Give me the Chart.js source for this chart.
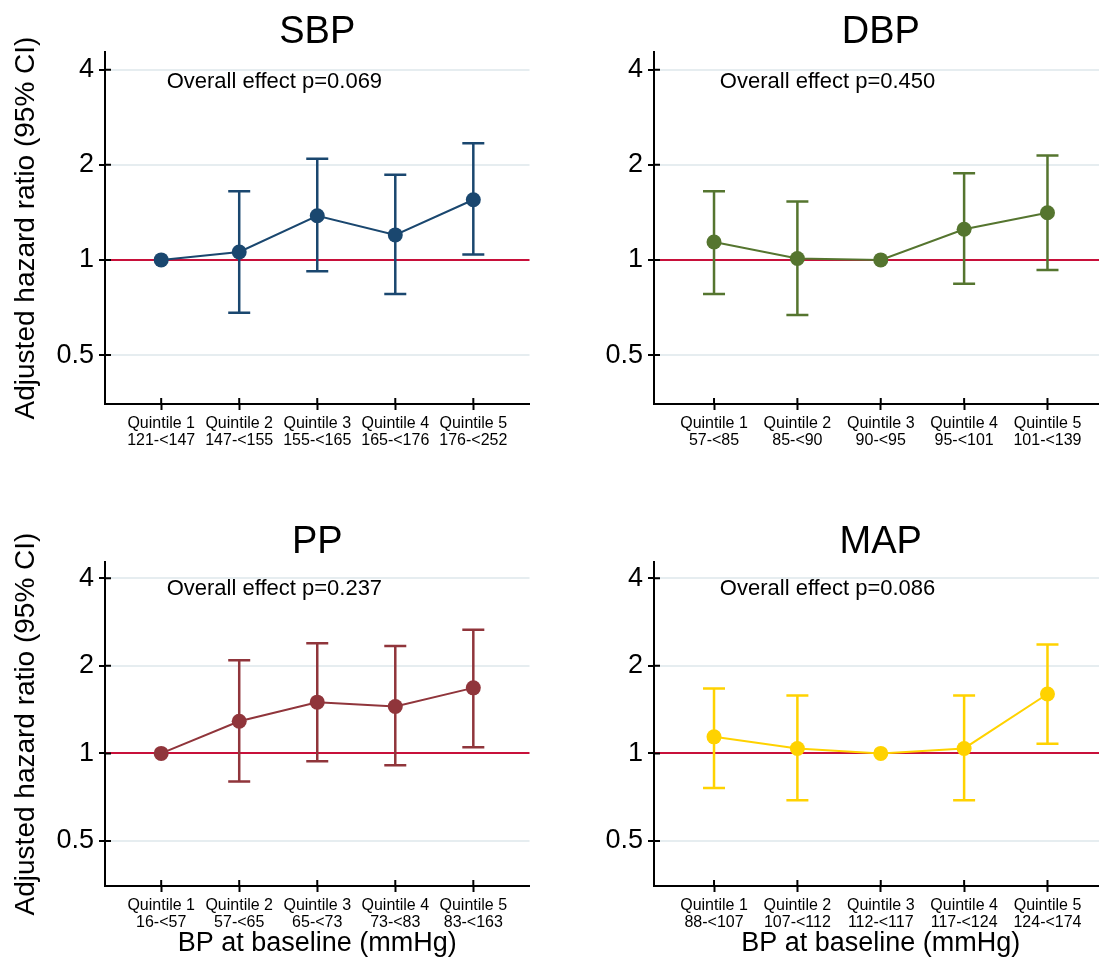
<!DOCTYPE html>
<html>
<head>
<meta charset="utf-8">
<script src="https://cdn.jsdelivr.net/npm/chart.js@4.4.0/dist/chart.umd.min.js"></script>
<style>
  html, body { margin: 0; padding: 0; background: #fff; overflow: hidden; }
  body { width: 1099px; height: 958px; position: relative; }
  .panel { position: absolute; }
</style>
</head>
<body>
<div class="panel" style="left:0;top:0;width:537px;height:480px"><canvas id="sbp"></canvas></div>
<div class="panel" style="left:550px;top:0;width:565px;height:480px"><canvas id="dbp"></canvas></div>
<div class="panel" style="left:0;top:490px;width:537px;height:468px"><canvas id="pp"></canvas></div>
<div class="panel" style="left:550px;top:490px;width:565px;height:468px"><canvas id="map"></canvas></div>
<script>
// data (hazard ratios, 95% CI)
const quintiles = ['Quintile 1', 'Quintile 2', 'Quintile 3', 'Quintile 4', 'Quintile 5'];
const yTicks = [0.5, 1, 2, 4];
const refValue = 1;

const sbpRanges = ['121-<147', '147-<155', '155-<165', '165-<176', '176-<252'];
const sbpHR = [1.0, 1.06, 1.38, 1.20, 1.55];
const sbpLo = [null, 0.68, 0.92, 0.78, 1.04];
const sbpHi = [null, 1.65, 2.09, 1.86, 2.34];

const dbpRanges = ['57-<85', '85-<90', '90-<95', '95-<101', '101-<139'];
const dbpHR = [1.14, 1.01, 1.0, 1.25, 1.41];
const dbpLo = [0.78, 0.67, null, 0.84, 0.93];
const dbpHi = [1.65, 1.53, null, 1.88, 2.14];

const ppRanges = ['16-<57', '57-<65', '65-<73', '73-<83', '83-<163'];
const ppHR = [1.0, 1.29, 1.50, 1.45, 1.68];
const ppLo = [null, 0.80, 0.94, 0.91, 1.05];
const ppHi = [null, 2.09, 2.39, 2.34, 2.66];

const mapRanges = ['88-<107', '107-<112', '112-<117', '117-<124', '124-<174'];
const mapHR = [1.14, 1.04, 1.0, 1.04, 1.60];
const mapLo = [0.76, 0.69, null, 0.69, 1.08];
const mapHi = [1.67, 1.58, null, 1.58, 2.37];

const FONT = "'Liberation Sans', Arial, Helvetica, sans-serif";
const gridColor = '#e6edf0';
const refColor = '#c8103a';

// error bars, title, p-value text and inner tick marks
const extras = {
  id: 'extras',
  beforeDatasetsDraw(chart) {
    const ds = chart.data.datasets[0];
    const xs = chart.scales.x, ys = chart.scales.y;
    const ctx = chart.ctx;
    ctx.save();
    ctx.strokeStyle = ds.borderColor;
    ctx.lineWidth = 2.5;
    ds.lo.forEach((lo, i) => {
      if (lo == null) return;
      const x = xs.getPixelForValue(i + 1);
      const y1 = ys.getPixelForValue(lo), y2 = ys.getPixelForValue(ds.hi[i]);
      ctx.beginPath();
      ctx.moveTo(x, y1); ctx.lineTo(x, y2);
      ctx.moveTo(x - 11, y1); ctx.lineTo(x + 11, y1);
      ctx.moveTo(x - 11, y2); ctx.lineTo(x + 11, y2);
      ctx.stroke();
    });
    ctx.restore();
  },
  afterDraw(chart) {
    const o = chart.options.plugins.extras;
    const xs = chart.scales.x, ys = chart.scales.y;
    const a = chart.chartArea;
    const ctx = chart.ctx;
    ctx.save();
    ctx.fillStyle = '#000';
    ctx.font = '38px ' + FONT;
    ctx.textAlign = 'center';
    ctx.textBaseline = 'middle';
    ctx.fillText(o.title, (a.left + a.right) / 2, a.top - 19);
    ctx.font = '22px ' + FONT;
    ctx.textAlign = 'left';
    ctx.fillText(o.note, xs.getPixelForValue(1.07), ys.getPixelForValue(3.67));
    // tick marks crossing the axes
    ctx.strokeStyle = '#000';
    ctx.lineWidth = 2;
    ctx.beginPath();
    xs.ticks.forEach(t => {
      const x = xs.getPixelForValue(t.value);
      ctx.moveTo(x, a.bottom); ctx.lineTo(x, a.bottom - 6);
    });
    ys.ticks.forEach(t => {
      const y = ys.getPixelForValue(t.value);
      ctx.moveTo(a.left, y); ctx.lineTo(a.left + 6, y);
    });
    ctx.stroke();
    ctx.restore();
  }
};

function makeChart(id, p) {
  const color = p.color;
  new Chart(document.getElementById(id), {
    type: 'line',
    data: {
      datasets: [{
        data: p.hr.map((v, i) => ({ x: i + 1, y: v })),
        lo: p.lo,
        hi: p.hi,
        borderColor: color,
        backgroundColor: color,
        borderWidth: 2,
        pointRadius: 7.5,
        pointHoverRadius: 7.5,
        pointBorderWidth: 0,
        tension: 0
      }]
    },
    options: {
      responsive: true,
      maintainAspectRatio: false,
      animation: false,
      layout: { padding: { top: p.top, left: 0, right: 0, bottom: 0 } },
      plugins: {
        legend: { display: false },
        tooltip: { enabled: false },
        extras: { title: p.title, note: p.note }
      },
      scales: {
        x: {
          type: 'linear',
          min: 0.28,
          max: 5.72,
          afterBuildTicks: s => { s.ticks = quintiles.map((q, i) => ({ value: i + 1 })); },
          afterFit: s => { s.height = p.xh; },
          ticks: {
            autoSkip: false,
            maxRotation: 0,
            padding: 5,
            color: '#000',
            font: { family: FONT, size: 16, lineHeight: 1.05 },
            callback: v => [quintiles[v - 1], p.ranges[v - 1]]
          },
          grid: { drawOnChartArea: false, drawTicks: true, tickLength: 6, tickColor: '#000', tickWidth: 2 },
          border: { color: '#000', width: 2 },
          title: {
            display: !!p.xTitle,
            text: p.xTitle || '',
            color: '#000',
            font: { family: FONT, size: 27, lineHeight: 1.1 },
            padding: { top: 0, bottom: 0 }
          }
        },
        y: {
          type: 'logarithmic',
          min: 0.35,
          max: 4.55,
          afterBuildTicks: s => { s.ticks = yTicks.map(v => ({ value: v })); },
          afterFit: s => { s.width = p.yw; },
          ticks: {
            padding: 5,
            color: '#000',
            font: { family: FONT, size: 27 },
            callback: v => String(v)
          },
          grid: {
            color: c => (c.tick && c.tick.value === refValue) ? refColor : gridColor,
            lineWidth: 2,
            tickLength: 6,
            tickColor: '#000',
            tickWidth: 2
          },
          border: { color: '#000', width: 2 },
          title: {
            display: !!p.yTitle,
            text: p.yTitle || '',
            color: '#000',
            font: { family: FONT, size: 28, lineHeight: 1.1 },
            padding: { top: 11, bottom: 0 }
          }
        }
      }
    },
    plugins: [extras]
  });
}

const yLabel = 'Adjusted hazard ratio (95% CI)';
const xLabel = 'BP at baseline (mmHg)';

makeChart('sbp', { title: 'SBP', note: 'Overall effect p=0.069', color: '#1a476f',
  hr: sbpHR, lo: sbpLo, hi: sbpHi, ranges: sbpRanges, top: 52, xh: 76, yw: 105, yTitle: yLabel });
makeChart('dbp', { title: 'DBP', note: 'Overall effect p=0.450', color: '#55752f',
  hr: dbpHR, lo: dbpLo, hi: dbpHi, ranges: dbpRanges, top: 52, xh: 76, yw: 104 });
makeChart('pp', { title: 'PP', note: 'Overall effect p=0.237', color: '#90353b',
  hr: ppHR, lo: ppLo, hi: ppHi, ranges: ppRanges, top: 72, xh: 72, yw: 105, yTitle: yLabel, xTitle: xLabel });
makeChart('map', { title: 'MAP', note: 'Overall effect p=0.086', color: '#ffd200',
  hr: mapHR, lo: mapLo, hi: mapHi, ranges: mapRanges, top: 72, xh: 72, yw: 104, xTitle: xLabel });
</script>
</body>
</html>
